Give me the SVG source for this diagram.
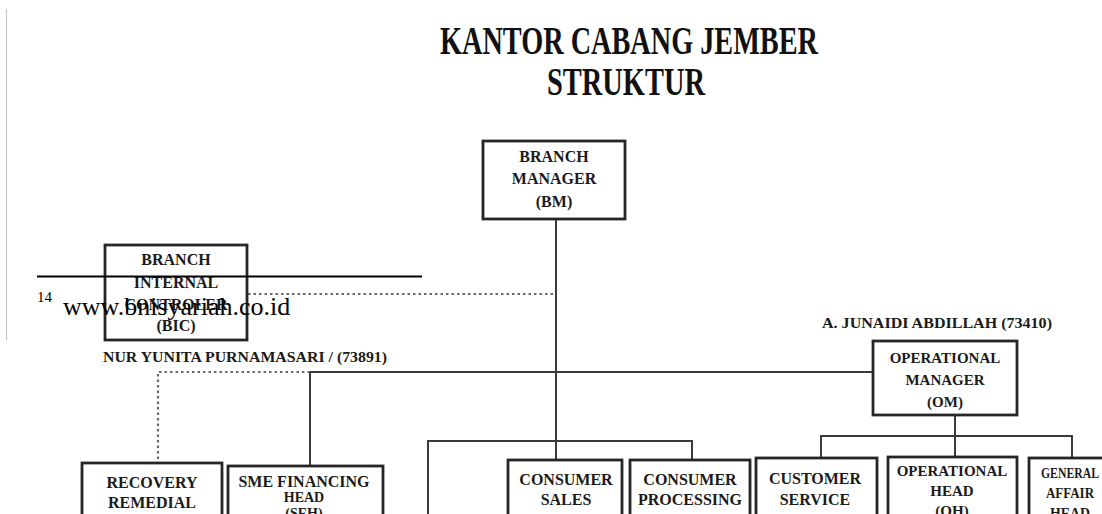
<svg xmlns="http://www.w3.org/2000/svg" width="1102" height="514" viewBox="0 0 1102 514">
<style>
.box{fill:#fff;stroke:#262626;stroke-width:2.8}
.t{font-family:"Liberation Serif","Times New Roman",serif;font-weight:bold;fill:#1a1a1a;text-anchor:middle}
.f16{font-size:16px}
.f15{font-size:15px}
.f14{font-size:14px}
.title{font-family:"Liberation Serif","Times New Roman",serif;font-weight:bold;font-size:40px;fill:#111;text-anchor:middle}
.solid{fill:none;stroke:#3a3a3a;stroke-width:2}
.dot{fill:none;stroke:#6a6a6a;stroke-width:2.2;stroke-dasharray:2.5 3}
</style>
<rect width="1102" height="514" fill="#fff"/>
<line x1="6.5" y1="9" x2="6.5" y2="340" stroke="#c4c4c4" stroke-width="1.2"/>
<text class="title" x="629" y="54" textLength="378" lengthAdjust="spacingAndGlyphs">KANTOR CABANG JEMBER</text>
<text class="title" x="626" y="95" textLength="158" lengthAdjust="spacingAndGlyphs">STRUKTUR</text>

<g id="connectors">
<line class="solid" x1="556" y1="219" x2="556" y2="460"/>
<line class="dot" x1="248" y1="294" x2="556" y2="294"/>
<line class="solid" x1="310" y1="372" x2="873" y2="372"/>
<polyline class="dot" points="310,372 158,372 158,463"/>
<line class="solid" x1="310" y1="372" x2="310" y2="466"/>
<polyline class="solid" points="428,514 428,441 692,441 692,460"/>
<line class="solid" x1="955" y1="415" x2="955" y2="457"/>
<polyline class="solid" points="821,458 821,436 1072,436 1072,458"/>
</g>

<g id="bm">
<rect class="box" x="483" y="141" width="142" height="78"/>
<text class="t f16" x="554" y="162">BRANCH</text>
<text class="t f16" x="554" y="184">MANAGER</text>
<text class="t f16" x="554" y="207">(BM)</text>
</g>

<g id="bic">
<rect class="box" x="105" y="245" width="142" height="95"/>
<text class="t f16" x="176" y="265">BRANCH</text>
<text class="t f16" x="176" y="288">INTERNAL</text>
<text class="t f16" x="176" y="310">CONTROLER</text>
<text class="t f16" x="176" y="331">(BIC)</text>
<text class="t f15" x="245" y="362" textLength="284" lengthAdjust="spacingAndGlyphs">NUR YUNITA PURNAMASARI / (73891)</text>
</g>

<g id="om">
<rect class="box" x="873" y="341" width="144" height="74"/>
<text class="t f15" x="945" y="363">OPERATIONAL</text>
<text class="t f15" x="945" y="385">MANAGER</text>
<text class="t f15" x="945" y="407">(OM)</text>
<text class="t f15" x="937" y="328" textLength="230" lengthAdjust="spacingAndGlyphs">A. JUNAIDI ABDILLAH (73410)</text>
</g>

<g id="recovery">
<rect class="box" x="82" y="463" width="140" height="80"/>
<text class="t f16" x="152" y="488">RECOVERY</text>
<text class="t f16" x="152" y="508">REMEDIAL</text>
</g>

<g id="sme">
<rect class="box" x="228" y="466" width="155" height="80"/>
<text class="t f16" x="304" y="487">SME FINANCING</text>
<text class="t f14" x="304" y="502">HEAD</text>
<text class="t f14" x="304" y="518">(SEH)</text>
</g>

<g id="consumer-sales">
<rect class="box" x="508" y="460" width="114" height="80"/>
<text class="t f16" x="566" y="485">CONSUMER</text>
<text class="t f16" x="566" y="505">SALES</text>
</g>

<g id="consumer-processing">
<rect class="box" x="630" y="460" width="120" height="80"/>
<text class="t f16" x="690" y="485">CONSUMER</text>
<text class="t f16" x="690" y="505">PROCESSING</text>
</g>

<g id="customer-service">
<rect class="box" x="756" y="458" width="121" height="80"/>
<text class="t f16" x="815" y="484">CUSTOMER</text>
<text class="t f16" x="815" y="505">SERVICE</text>
<text class="t f16" x="815" y="526">HEAD</text>
</g>

<g id="oh">
<rect class="box" x="888" y="457" width="129" height="80"/>
<text class="t f15" x="952" y="476">OPERATIONAL</text>
<text class="t f15" x="952" y="496">HEAD</text>
<text class="t f15" x="952" y="516">(OH)</text>
</g>

<g id="ga">
<rect class="box" x="1029" y="458" width="90" height="80"/>
<text class="t f14" x="1070" y="478" textLength="58" lengthAdjust="spacingAndGlyphs">GENERAL</text>
<text class="t f14" x="1070" y="498" textLength="48" lengthAdjust="spacingAndGlyphs">AFFAIR</text>
<text class="t f14" x="1070" y="518" textLength="40" lengthAdjust="spacingAndGlyphs">HEAD</text>
</g>

<g id="footer">
<line x1="37" y1="276.5" x2="422" y2="276.5" stroke="#000" stroke-width="1.8"/>
<text x="37" y="302" font-family="Liberation Serif,'Times New Roman',serif" font-size="15" fill="#000">14</text>
<text x="63" y="315" font-family="Liberation Serif,'Times New Roman',serif" font-size="26" fill="#000">www.bnisyariah.co.id</text>
</g>
</svg>
